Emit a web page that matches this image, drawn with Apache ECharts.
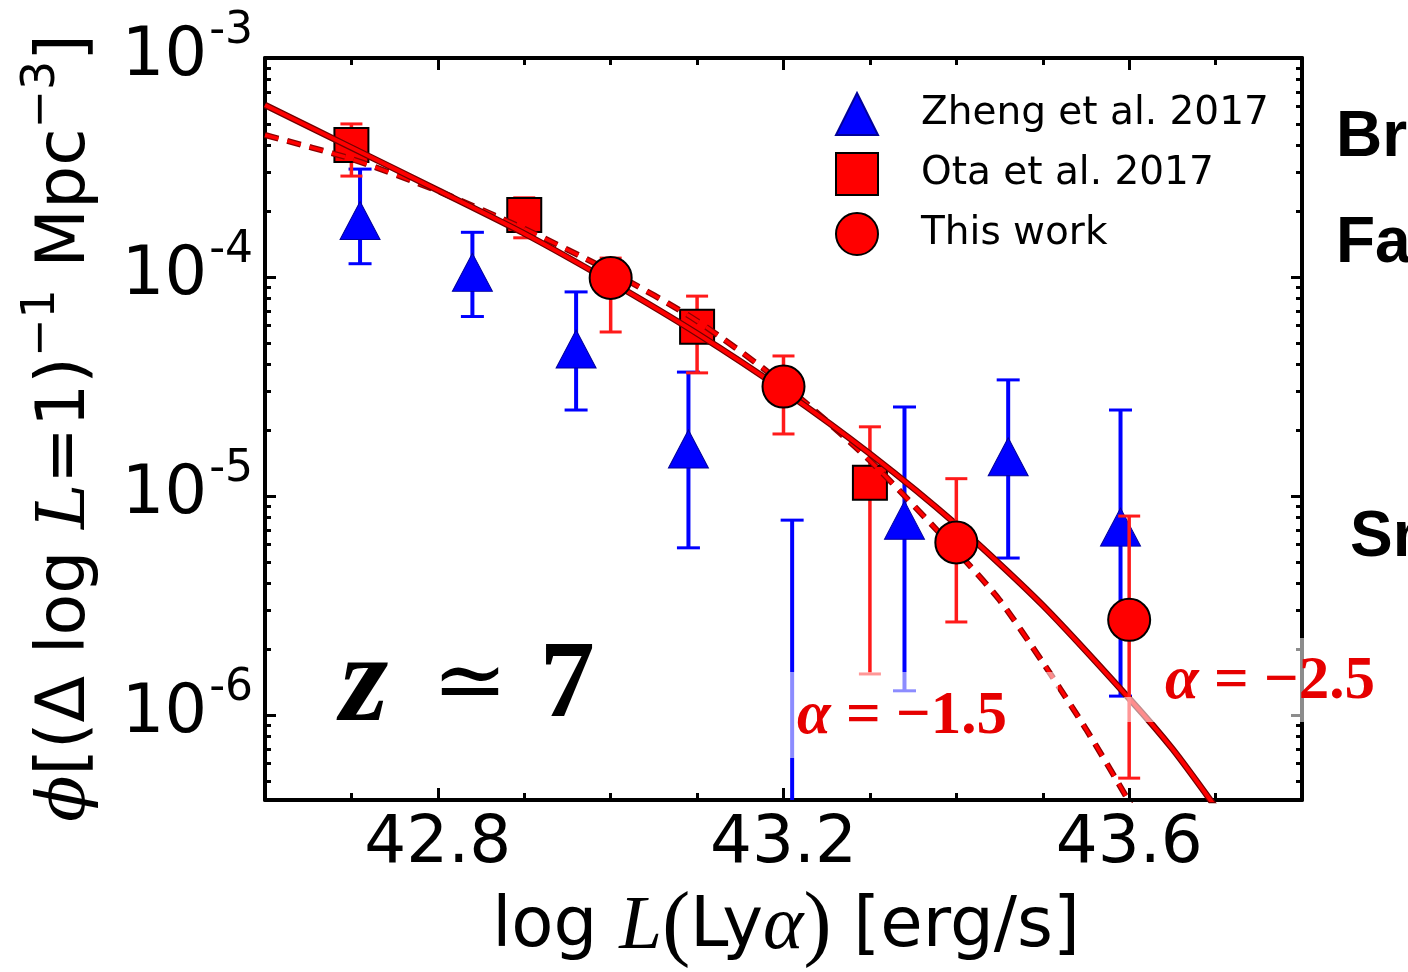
<!DOCTYPE html>
<html>
<head>
<meta charset="utf-8">
<script src="https://cdn.jsdelivr.net/npm/echarts@6/dist/echarts.min.js"></script>
<style>
  html, body { margin: 0; padding: 0; background: #fff; }
  #chart { width: 1408px; height: 972px; }
</style>
</head>
<body>
<div id="chart"></div>
<script>
// Zheng et al. 2017 (blue triangles), phi in Mpc^-3
const zhengLogL = [42.71, 42.84, 42.96, 43.09, 43.21, 43.34, 43.46, 43.59];
const zhengPhi  = [1.81e-4, 1.05e-4, 4.69e-5, 1.64e-5, null, 7.76e-6, 1.51e-5, 7.21e-6];
const zhengUp   = [3.11e-4, 1.60e-4, 8.55e-5, 3.68e-5, 7.76e-6, 2.55e-5, 3.39e-5, 2.47e-5];
const zhengLow  = [1.15e-4, 6.6e-5, 2.47e-5, 5.8e-6, 1e-8, 1.29e-6, 5.21e-6, 1.22e-6];

// Ota et al. 2017 (red squares)
const otaLogL = [42.7, 42.9, 43.1, 43.3];
const otaPhi  = [4.01e-4, 1.92e-4, 5.92e-5, 1.15e-5];
const otaUp   = [5.0e-4, 2.3e-4, 8.18e-5, 2.07e-5];
const otaLow  = [2.89e-4, 1.51e-4, 3.65e-5, 1.54e-6];

// This work (red circles)
const thisLogL = [43.0, 43.2, 43.4, 43.6];
const thisPhi  = [9.9e-5, 3.16e-5, 6.14e-6, 2.72e-6];
const thisUp   = [1.22e-4, 4.36e-5, 1.2e-5, 8.1e-6];
const thisLow  = [5.61e-5, 1.92e-5, 2.66e-6, 5.15e-7];

// fit curves
const steepLogL = [42.6, 42.7, 42.8, 42.9, 43.0, 43.1, 43.2, 43.3, 43.4, 43.5, 43.6, 43.65, 43.7];
const steepPhi  = [6.10e-4, 3.90e-4, 2.49e-4, 1.58e-4, 9.51e-5, 5.52e-5, 3.03e-5, 1.56e-5, 7.41e-6, 3.17e-6, 1.19e-6, 7.01e-7, 3.79e-7]; // alpha = -2.5
const flatLogL  = [42.6, 42.7, 42.8, 42.9, 43.0, 43.1, 43.2, 43.3, 43.4, 43.45, 43.5, 43.55, 43.6, 43.62];
const flatPhi   = [4.45e-4, 3.46e-4, 2.47e-4, 1.66e-4, 1.06e-4, 6.30e-5, 3.24e-5, 1.45e-5, 5.61e-6, 3.35e-6, 1.74e-6, 8.63e-7, 4.01e-7, 2.8e-7]; // alpha = -1.5

// ticks
const xLabelTicks = [42.8, 43.2, 43.6];
const xMinorTicks = [42.6, 42.7, 42.8, 42.9, 43.0, 43.1, 43.2, 43.3, 43.4, 43.5, 43.6, 43.7, 43.8];
const yDecades = [-6, -5, -4, -3];
const yMinorMult = [2, 3, 4, 5, 6, 7, 8, 9];

const X_MIN = 42.6, X_MAX = 43.8;
const Y_MIN = -6.388, Y_MAX = -3;

const yMinorTicks = [];
[-7, -6, -5, -4].forEach(n => {
  yMinorMult.forEach(k => {
    const v = n + Math.log10(k);
    if (v > Y_MIN && v < Y_MAX) yMinorTicks.push(v);
  });
});

const toLog = v => Math.log10(v);
const points = (xs, ys) => xs.map((x, i) => ys[i] == null ? null : [x, toLog(ys[i])]).filter(Boolean);
const bars = (xs, lo, hi) => xs.map((x, i) => [x, toLog(lo[i]), toLog(hi[i])]);

const SANS = 'DejaVu Sans';
const SERIF = 'DejaVu Serif';
const TIMES = 'Liberation Serif';

function xAxisCfg(pos, ticks, len, showLine, showLabel) {
  return {
    type: 'value', min: X_MIN, max: X_MAX, position: pos,
    axisLine: { show: showLine, onZero: false, lineStyle: { color: '#000', width: 4 } },
    axisTick: { show: true, inside: true, length: len, customValues: ticks, lineStyle: { color: '#000', width: 3 } },
    axisLabel: showLabel ? {
      customValues: xLabelTicks, margin: 12, color: '#000',
      fontFamily: SANS, fontSize: 66,
      formatter: v => v.toFixed(1)
    } : { show: false },
    splitLine: { show: false }
  };
}

function yAxisCfg(pos, ticks, len, showLine, showLabel) {
  return {
    type: 'value', min: Y_MIN, max: Y_MAX, position: pos,
    axisLine: { show: showLine, onZero: false, lineStyle: { color: '#000', width: 4 } },
    axisTick: { show: true, inside: true, length: len, customValues: ticks, lineStyle: { color: '#000', width: 3 } },
    axisLabel: showLabel ? {
      customValues: yDecades, margin: 12, color: '#000',
      formatter: v => '{b|10}{s|' + v + '}',
      rich: {
        b: { fontFamily: SANS, fontSize: 67, color: '#000', verticalAlign: 'middle' },
        s: { fontFamily: SANS, fontSize: 44, color: '#000', verticalAlign: 'middle', padding: [0, 0, 52, 2] }
      }
    } : { show: false },
    splitLine: { show: false }
  };
}

function errorBars(name, data, color, width, half, z) {
  return {
    type: 'custom', name, data, z, clip: true, silent: true,
    encode: { x: 0, y: [1, 2] },
    renderItem: (params, api) => {
      const x = api.value(0);
      const lo = api.coord([x, api.value(1)]);
      const hi = api.coord([x, api.value(2)]);
      const style = { stroke: color, lineWidth: width, fill: null };
      const cap = { stroke: color, lineWidth: 3, fill: null };
      return {
        type: 'group',
        children: [
          { type: 'line', shape: { x1: lo[0], y1: lo[1], x2: hi[0], y2: hi[1] }, style },
          { type: 'line', shape: { x1: lo[0] - half, y1: lo[1], x2: lo[0] + half, y2: lo[1] }, style: cap },
          { type: 'line', shape: { x1: hi[0] - half, y1: hi[1], x2: hi[0] + half, y2: hi[1] }, style: cap }
        ]
      };
    }
  };
}

function fitLine(name, xs, ys, color, width, dash, z) {
  return {
    type: 'line', name, z, silent: true,
    data: points(xs, ys),
    symbol: 'none', smooth: 0.25,
    lineStyle: { color, width, type: dash || 'solid' }
  };
}

const alphaRich = {
  a: { fontFamily: TIMES, fontStyle: 'italic', fontWeight: 'bold', fontSize: 61, fill: '#e60000', verticalAlign: 'middle' },
  t: { fontFamily: TIMES, fontWeight: 'bold', fontSize: 61, fill: '#e60000', verticalAlign: 'middle' }
};

const option = {
  animation: false,
  backgroundColor: '#fff',
  grid: { left: 265, top: 58, width: 1037, height: 742, containLabel: false, outerBoundsMode: 'none' },
  xAxis: [
    xAxisCfg('bottom', xLabelTicks, 12, true, true),
    xAxisCfg('bottom', xMinorTicks, 7, false, false),
    xAxisCfg('top', xLabelTicks, 12, true, false),
    xAxisCfg('top', xMinorTicks, 7, false, false)
  ],
  yAxis: [
    yAxisCfg('left', yDecades, 11, true, true),
    yAxisCfg('left', yMinorTicks, 6, false, false),
    yAxisCfg('right', yDecades, 11, true, false),
    yAxisCfg('right', yMinorTicks, 6, false, false)
  ],
  legend: {
    data: [
      { name: 'Zheng et al. 2017', icon: 'triangle' },
      { name: 'Ota et al. 2017', icon: 'rect' },
      { name: 'This work', icon: 'circle' }
    ],
    orient: 'vertical', left: 830, top: 87,
    itemWidth: 42, itemHeight: 42, itemGap: 16,
    selectedMode: false,
    formatter: name => '{t|' + name + '}',
    textStyle: {
      color: '#000',
      rich: { t: { fontFamily: SANS, fontSize: 39, lineHeight: 42, color: '#000', padding: [0, 0, 0, 38] } }
    }
  },
  series: [
    errorBars('zheng-err', bars(zhengLogL, zhengLow, zhengUp), '#0000ff', 4, 11.5, 2),
    {
      type: 'scatter', name: 'Zheng et al. 2017', z: 3,
      data: points(zhengLogL, zhengPhi),
      symbol: 'triangle', symbolSize: [40, 38],
      itemStyle: { color: '#0000ff', borderColor: '#00009a', borderWidth: 1, opacity: 1 }
    },
    errorBars('ota-err', bars(otaLogL, otaLow, otaUp), '#ff1a1a', 3.5, 11, 4),
    {
      type: 'scatter', name: 'Ota et al. 2017', z: 5,
      data: points(otaLogL, otaPhi),
      symbol: 'rect', symbolSize: 34,
      itemStyle: { color: '#ff0000', borderColor: '#000', borderWidth: 2, opacity: 1 }
    },
    fitLine('flat-edge', flatLogL, flatPhi, '#8b0000', 6, [14, 9], 6),
    fitLine('flat', flatLogL, flatPhi, '#ff0000', 3.4, [14, 9], 6),
    fitLine('steep-edge', steepLogL, steepPhi, '#700000', 6.5, null, 7),
    fitLine('steep', steepLogL, steepPhi, '#ff0000', 4, null, 7),
    errorBars('this-err', bars(thisLogL, thisLow, thisUp), '#ff1a1a', 3.5, 11, 8),
    {
      type: 'scatter', name: 'This work', z: 9,
      data: points(thisLogL, thisPhi),
      symbol: 'circle', symbolSize: 42,
      itemStyle: { color: '#ff0000', borderColor: '#000', borderWidth: 2, opacity: 1 }
    }
  ],
  graphic: [
    // washed-out patches behind the alpha labels
    { type: 'rect', z: 40, shape: { x: 788, y: 672, width: 270, height: 86 }, style: { fill: 'rgba(255,255,255,0.55)' } },
    { type: 'rect', z: 40, shape: { x: 1150, y: 638, width: 160, height: 84 }, style: { fill: 'rgba(255,255,255,0.55)' } },
    { type: 'rect', z: 40, shape: { x: 1124, y: 697, width: 26, height: 25 }, style: { fill: 'rgba(255,255,255,0.55)' } },
    {
      type: 'text', z: 50, x: 66, y: 428, rotation: Math.PI / 2,
      style: {
        text: '{m|ϕ}{n|[(Δ log }{i|L}{n|=1)}{s|−1}{n| Mpc}{s|−3}{n|]}',
        align: 'center', verticalAlign: 'middle', fill: '#000',
        rich: {
          m: { fontFamily: SERIF, fontStyle: 'italic', fontSize: 68, verticalAlign: 'middle', fill: '#000' },
          n: { fontFamily: SANS, fontSize: 68, verticalAlign: 'middle', fill: '#000' },
          i: { fontFamily: SERIF, fontStyle: 'italic', fontSize: 68, verticalAlign: 'middle', fill: '#000' },
          s: { fontFamily: SANS, fontSize: 46, verticalAlign: 'middle', fill: '#000', padding: [0, 0, 48, 0] }
        }
      }
    },
    {
      type: 'text', z: 50, x: 786, y: 928,
      style: {
        text: '{n|log }{i|L}{p|(}{n|Ly}{i|α}{p|)}{n| [erg/s]}',
        align: 'center', verticalAlign: 'middle', fill: '#000',
        rich: {
          n: { fontFamily: SANS, fontSize: 69, verticalAlign: 'middle', fill: '#000' },
          i: { fontFamily: TIMES, fontStyle: 'italic', fontSize: 77, verticalAlign: 'middle', fill: '#000' },
          p: { fontFamily: TIMES, fontSize: 84, verticalAlign: 'middle', fill: '#000' }
        }
      }
    },
    {
      type: 'text', z: 50, x: 340, y: 688,
      style: {
        text: '{z|z}{g|≃}{n|7}',
        align: 'left', verticalAlign: 'middle', fill: '#000',
        rich: {
          z: { fontFamily: TIMES, fontStyle: 'italic', fontWeight: 'bold', fontSize: 124, verticalAlign: 'middle', fill: '#000' },
          g: { fontFamily: SERIF + ', ' + SANS, fontSize: 90, verticalAlign: 'middle', fill: '#000', padding: [0, 32, 0, 44] },
          n: { fontFamily: TIMES, fontWeight: 'bold', fontSize: 110, verticalAlign: 'middle', fill: '#000' }
        }
      }
    },
    {
      type: 'text', z: 50, x: 797, y: 717,
      style: { text: '{a|α}{t| = −1.5}', align: 'left', verticalAlign: 'middle', rich: alphaRich }
    },
    {
      type: 'text', z: 50, x: 1165, y: 682,
      style: { text: '{a|α}{t| = −2.5}', align: 'left', verticalAlign: 'middle', rich: alphaRich }
    },
    { type: 'text', z: 50, x: 1336, y: 138, style: { text: 'Br', fill: '#000', font: 'bold 64px "Liberation Sans"', align: 'left', verticalAlign: 'middle' } },
    { type: 'text', z: 50, x: 1336, y: 244, style: { text: 'Fa', fill: '#000', font: 'bold 64px "Liberation Sans"', align: 'left', verticalAlign: 'middle' } },
    { type: 'text', z: 50, x: 1350, y: 538, style: { text: 'Sm', fill: '#000', font: 'bold 64px "Liberation Sans"', align: 'left', verticalAlign: 'middle' } }
  ]
};

const chart = echarts.init(document.getElementById('chart'), null, { renderer: 'canvas' });
chart.setOption(option);
window.addEventListener('resize', () => chart.resize());
</script>
</body>
</html>
